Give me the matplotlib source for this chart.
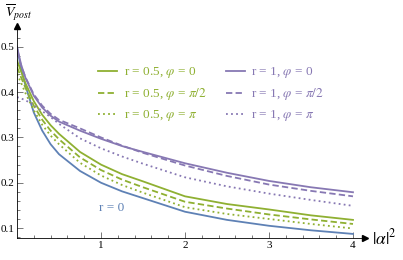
import numpy as np
import matplotlib.pyplot as plt

plt.rcParams['font.family'] = ['Liberation Serif', 'DejaVu Serif']
plt.rcParams['mathtext.fontset'] = 'stix'

# |alpha|^2 sample points
x = [0, 0.05, 0.1, 0.2, 0.3, 0.4, 0.5, 0.75, 1, 1.25, 1.5, 2, 2.5, 3, 3.5, 4]

v_r0 = [0.5, 0.45, 0.415, 0.355, 0.315, 0.285, 0.263, 0.226, 0.200, 0.181, 0.166, 0.136, 0.118, 0.105, 0.095, 0.087]

v_g0 = [0.47, 0.445, 0.42, 0.38, 0.35, 0.327, 0.308, 0.268, 0.240, 0.219, 0.203, 0.170, 0.153, 0.141, 0.128, 0.118]
v_g1 = [0.455, 0.432, 0.41, 0.37, 0.339, 0.315, 0.296, 0.256, 0.228, 0.207, 0.190, 0.158, 0.143, 0.130, 0.119, 0.109]
v_g2 = [0.44, 0.42, 0.398, 0.36, 0.328, 0.304, 0.285, 0.244, 0.216, 0.195, 0.178, 0.146, 0.131, 0.120, 0.109, 0.099]

v_p0 = [0.5, 0.46, 0.432, 0.392, 0.366, 0.348, 0.335, 0.315, 0.297, 0.281, 0.268, 0.243, 0.222, 0.204, 0.190, 0.179]
v_p1 = [0.49, 0.458, 0.433, 0.395, 0.37, 0.352, 0.339, 0.32, 0.300, 0.282, 0.266, 0.238, 0.215, 0.196, 0.182, 0.170]
v_p2 = [0.389, 0.386, 0.382, 0.372, 0.358, 0.345, 0.33, 0.298, 0.276, 0.258, 0.242, 0.212, 0.192, 0.176, 0.162, 0.149]

blue = '#5E81B5'
green = '#8FB032'
purple = '#8778B3'

fig = plt.figure(figsize=(4.03, 2.6), dpi=100)
ax = fig.add_axes([0.0422, 0.0846, 0.8635, 0.8154])

lw = 1.3
dash = (0, (3.5, 1.8))
dot = (0, (1, 1.8))

ax.plot(x, v_r0, color=blue, lw=lw)
lg0, = ax.plot(x, v_g0, color=green, lw=lw, label=r'r = 0.5, $\varphi$ = 0')
lg1, = ax.plot(x, v_g1, color=green, lw=lw, ls=dash, label=r'r = 0.5, $\varphi$ = $\pi/2$')
lg2, = ax.plot(x, v_g2, color=green, lw=lw, ls=dot, label=r'r = 0.5, $\varphi$ = $\pi$')
lp0, = ax.plot(x, v_p0, color=purple, lw=lw, label=r'r = 1, $\varphi$ = 0')
lp1, = ax.plot(x, v_p1, color=purple, lw=lw, ls=dash, label=r'r = 1, $\varphi$ = $\pi/2$')
lp2, = ax.plot(x, v_p2, color=purple, lw=lw, ls=dot, label=r'r = 1, $\varphi$ = $\pi$')

ax.text(1.13, 0.145, 'r = 0', color=blue, fontsize=9.5, ha='center', va='center')

ax.legend(handles=[lg0, lg1, lg2, lp0, lp1, lp2], ncol=2, frameon=False,
          labelcolor='linecolor', fontsize=9.5, handlelength=1.4,
          handletextpad=0.5, columnspacing=1.5, labelspacing=0.45,
          loc='upper left', bbox_to_anchor=(0.2, 0.87))

ax.set_xlim(0, 4.143)
ax.set_ylim(0.078, 0.546)
ax.spines['top'].set_visible(False)
ax.spines['right'].set_visible(False)
ax.spines['left'].set_linewidth(0.6)
ax.spines['bottom'].set_linewidth(0.6)
ax.plot(1, 0, '>k', ms=4, transform=ax.transAxes, clip_on=False)
ax.plot(0, 1, '^k', ms=4, transform=ax.transAxes, clip_on=False)

ax.set_xticks([1, 2, 3, 4])
ax.set_xticks(np.arange(0.2, 4.01, 0.2), minor=True)
ax.set_yticks([0.1, 0.2, 0.3, 0.4, 0.5])
ax.set_yticks(np.arange(0.08, 0.53, 0.02), minor=True)
ax.tick_params(which='both', direction='in', labelsize=8, width=0.5, color='#444444')
ax.tick_params(which='major', length=4, pad=2)
ax.tick_params(which='minor', length=2)
ax.set_yticklabels(['0.1', '0.2', '0.3', '0.4', '0.5'])

ax.text(1.02, 0, r'$|\alpha|^2$', transform=ax.transAxes, fontsize=12.5, va='center', ha='left')
ax.text(-0.035, 1.015, r'$\overline{V}_{post}$', transform=ax.transAxes, fontsize=10, va='bottom', ha='left')

fig.savefig('out.png', dpi=100)
